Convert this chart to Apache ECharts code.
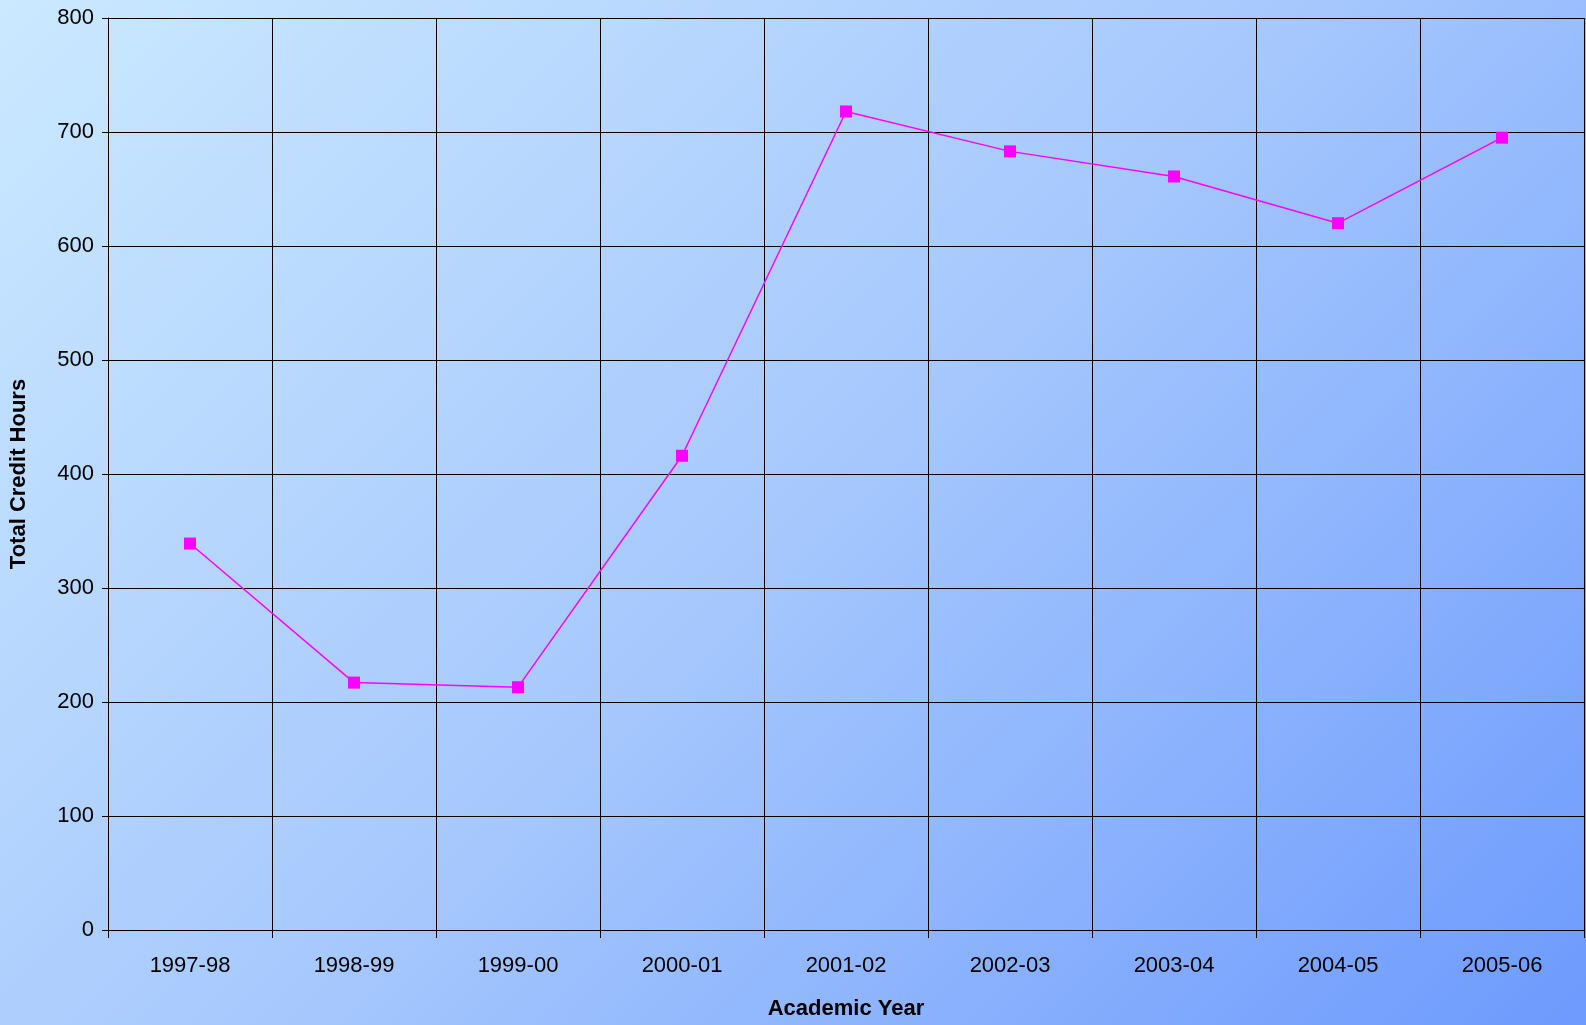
<!DOCTYPE html>
<html>
<head>
<meta charset="utf-8">
<script src="https://cdn.jsdelivr.net/npm/echarts@6/dist/echarts.min.js"></script>
<style>
html,body{margin:0;padding:0;}
#chart{width:1586px;height:1025px;background:linear-gradient(135deg,#cbe9ff 0%,#a6c8fd 50%,#6d9afd 100%);}
</style>
</head>
<body>
<div id="chart"></div>
<script>
const years = ['1997-98','1998-99','1999-00','2000-01','2001-02','2002-03','2003-04','2004-05','2005-06'];
const creditHours = [339, 217, 213, 416, 718, 683, 661, 620, 695];

const myChart = echarts.init(document.getElementById('chart'));
const font = 'Liberation Sans, Arial, sans-serif';

myChart.setOption({
    animation: false,
    grid: { left: 108, right: 2, top: 18, bottom: 84 },
    xAxis: {
        type: 'category',
        data: years,
        boundaryGap: true,
        name: 'Academic Year',
        nameLocation: 'middle',
        nameGap: 68,
        nameTextStyle: { fontFamily: font, fontWeight: 'bold', fontSize: 22, color: '#000' },
        axisLine: { lineStyle: { color: '#000' } },
        axisTick: { show: true, length: 8, lineStyle: { color: '#000' } },
        axisLabel: { fontFamily: font, fontSize: 22, color: '#000', margin: 25 },
        splitLine: { show: true, lineStyle: { color: '#000', width: 1 } }
    },
    yAxis: {
        type: 'value',
        min: 0, max: 800, interval: 100,
        name: 'Total Credit Hours',
        nameLocation: 'middle',
        nameGap: 78,
        nameTextStyle: { fontFamily: font, fontWeight: 'bold', fontSize: 22, color: '#000' },
        axisLine: { show: true, lineStyle: { color: '#000' } },
        axisTick: { show: true, length: 6, lineStyle: { color: '#000' } },
        axisLabel: { fontFamily: font, fontSize: 22, color: '#000', margin: 14 },
        splitLine: { show: true, lineStyle: { color: '#000', width: 1 } }
    },
    series: [{
        type: 'line',
        data: creditHours,
        symbol: 'rect',
        symbolSize: 12,
        itemStyle: { color: '#ff00ff' },
        lineStyle: { color: '#ff00ff', width: 1.5 }
    }]
});
</script>
</body>
</html>
